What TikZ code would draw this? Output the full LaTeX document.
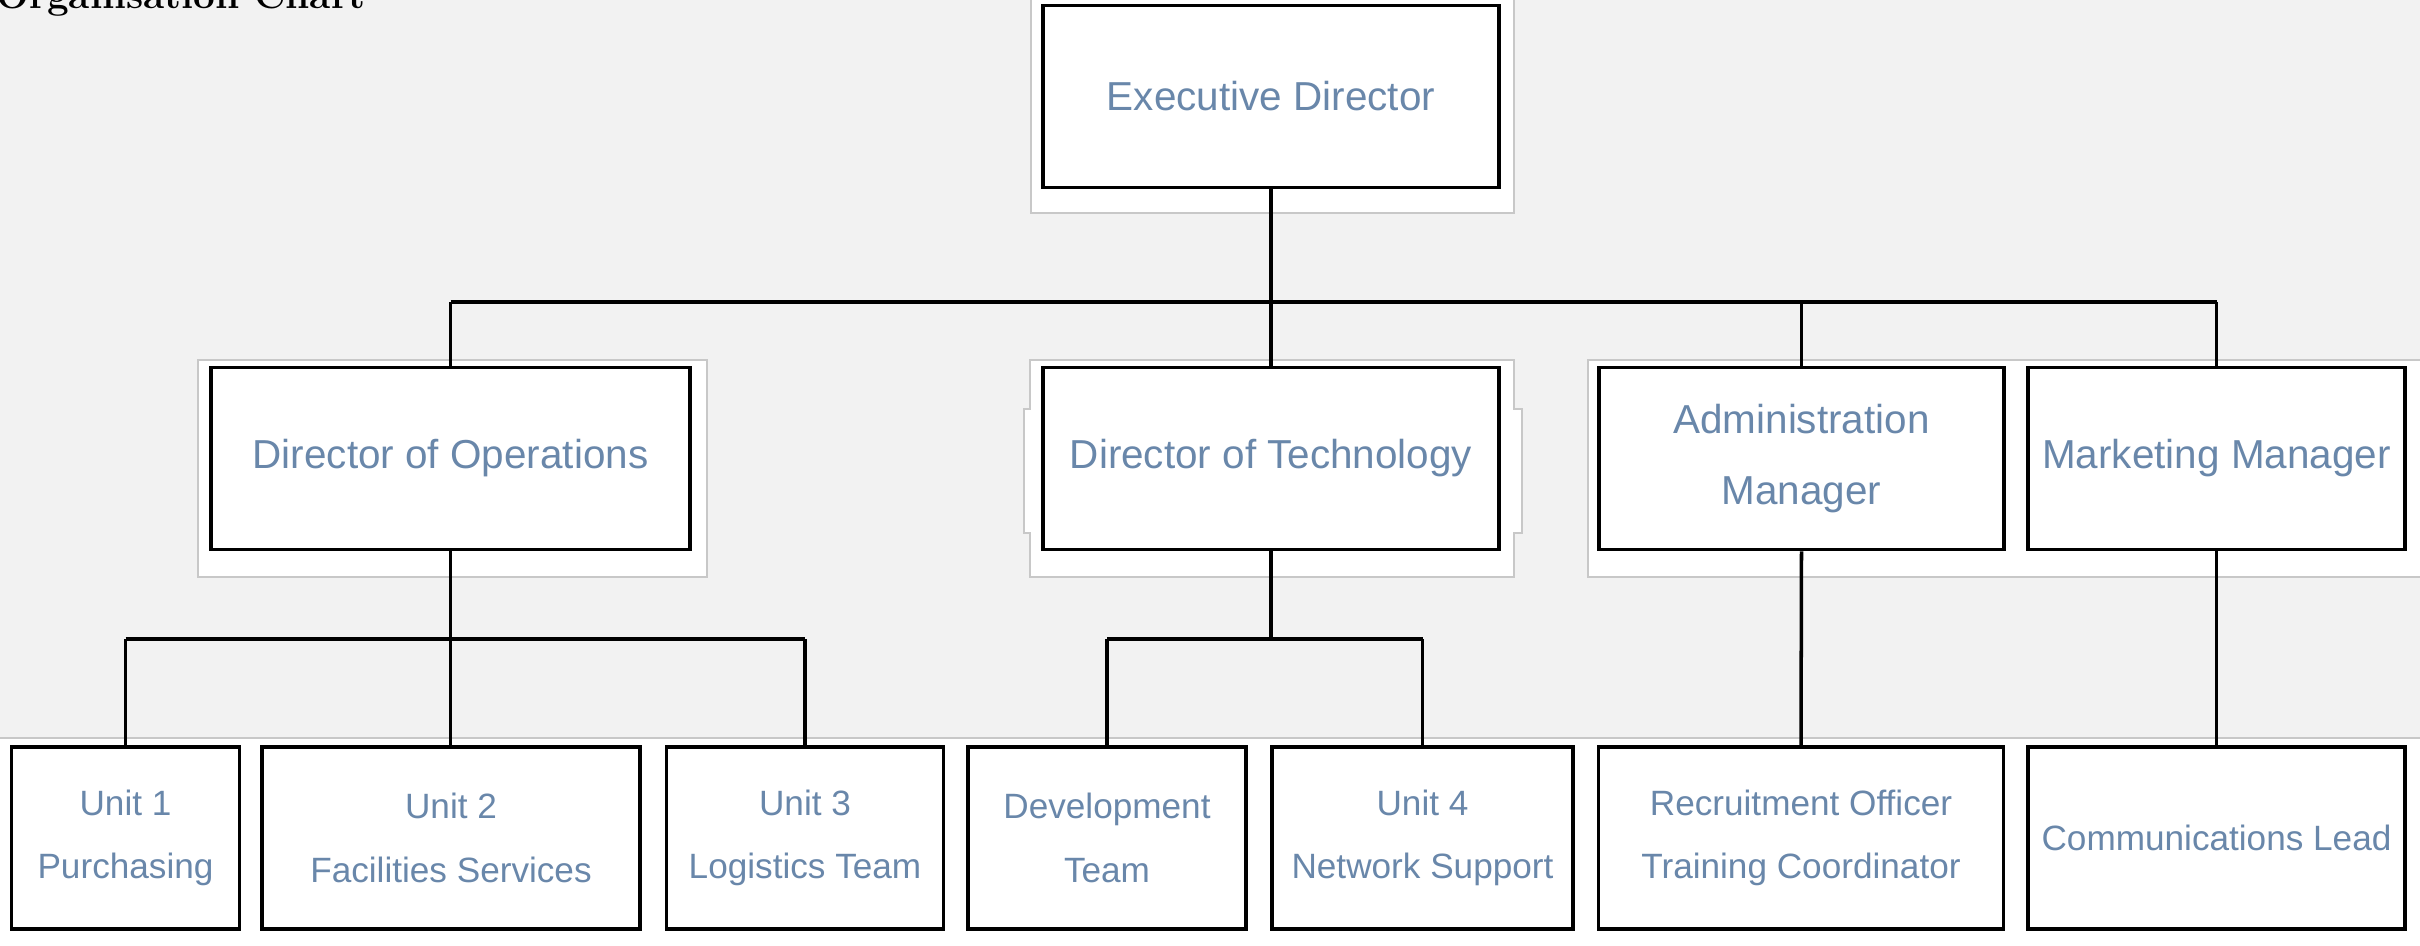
\documentclass[tikz,border=0pt]{standalone}
\usepackage{fontspec}
\setsansfont{Liberation Sans}
\usepackage{tikz}
\usetikzlibrary{positioning}

\definecolor{bgcol}{RGB}{242,242,242}
\definecolor{framecol}{RGB}{200,200,200}
\definecolor{textcol}{RGB}{105,135,170}

\tikzset{
  orgbox/.style={draw=black, line width=1pt, fill=white, align=center, inner xsep=2pt,
    text=textcol, font=\sffamily\fontsize{10}{18}\selectfont, minimum height=1.82cm},
  headbox/.style={orgbox, font=\sffamily\fontsize{11.5}{20}\selectfont},
  conn/.style={draw=black, line width=1pt},
  frame/.style={draw=framecol, line width=0.5pt, fill=white}
}

\begin{document}
\begin{tikzpicture}[x=0.01cm, y=-0.01cm]
\useasboundingbox (0,0) rectangle (2420,946);
\clip (0,0) rectangle (2420,946);
\fill[bgcol] (0,0) rectangle (2420,946);

% clipped title
\node[anchor=base west, inner sep=0pt, font=\rmfamily\bfseries\fontsize{11}{13}\selectfont] (title) at (-4,9) {Organisation Chart};

% white panels behind the boxes
\draw[frame] (1031,-5) rectangle (1514,213);
\draw[frame] (198,360) rectangle (707,577);
\draw[frame] (1030,360) -- (1514,360) -- (1514,409) -- (1522,409) -- (1522,533)
  -- (1514,533) -- (1514,577) -- (1030,577) -- (1030,533) -- (1024,533)
  -- (1024,409) -- (1030,409) -- cycle;
\draw[frame] (1588,360) rectangle (2430,577);
\draw[frame] (-5,738) rectangle (2430,951);

% top level
\node[headbox, minimum width=4.56cm] (exec) at (1271,96.5) {Executive Director};

% second level
\node[headbox, minimum width=4.79cm] (ops) at (450.5,458.5) {Director of Operations};
\node[headbox, minimum width=4.56cm] (tech) at (1271,458.5) {Director of Technology};
\node[headbox, minimum width=4.05cm] (adm) at (1801.5,458.5) {Administration\\Manager};
\node[headbox, minimum width=3.77cm] (mkt) at (2216.5,458.5) {Marketing Manager};

% third level
\node[orgbox, minimum width=2.28cm] (u1) at (125.5,838) {Unit 1\\Purchasing};
\node[orgbox, minimum width=3.78cm] (u2) at (451,838) {Unit 2\\Facilities Services};
\node[orgbox, minimum width=2.77cm] (u3) at (805,838) {Unit 3\\Logistics Team};
\node[orgbox, minimum width=2.78cm] (u4) at (1107,838) {Development\\Team};
\node[orgbox, minimum width=3.01cm] (u5) at (1422.5,838) {Unit 4\\Network Support};
\node[orgbox, minimum width=4.05cm] (u6) at (1801,838) {Recruitment Officer\\Training Coordinator};
\node[orgbox, minimum width=3.77cm] (u7) at (2216.5,838) {Communications Lead};

% connectors
\coordinate (busA) at (0,302);
\coordinate (busB) at (0,639);
\draw[conn] (exec.south) -- (exec.south |- busA);
\draw[conn] (ops.north |- busA) -- (mkt.north |- busA);
\foreach \n in {ops,tech,adm,mkt}
  \draw[conn] (\n.north) -- (\n.north |- busA);

\draw[conn] (ops.south) -- (ops.south |- busB);
\draw[conn] (u1.north |- busB) -- (u3.north |- busB);
\foreach \n in {u1,u3}
  \draw[conn] (\n.north) -- (\n.north |- busB);
\draw[conn] (ops.south |- busB) -- (ops.south |- u2.north);

\draw[conn] (tech.south) -- (tech.south |- busB);
\draw[conn] (u4.north |- busB) -- (u5.north |- busB);
\foreach \n in {u4,u5}
  \draw[conn] (\n.north) -- (\n.north |- busB);

\draw[conn] (adm.south) -- (u6.north);
\draw[conn] (mkt.south) -- (u7.north);
\end{tikzpicture}
\end{document}
